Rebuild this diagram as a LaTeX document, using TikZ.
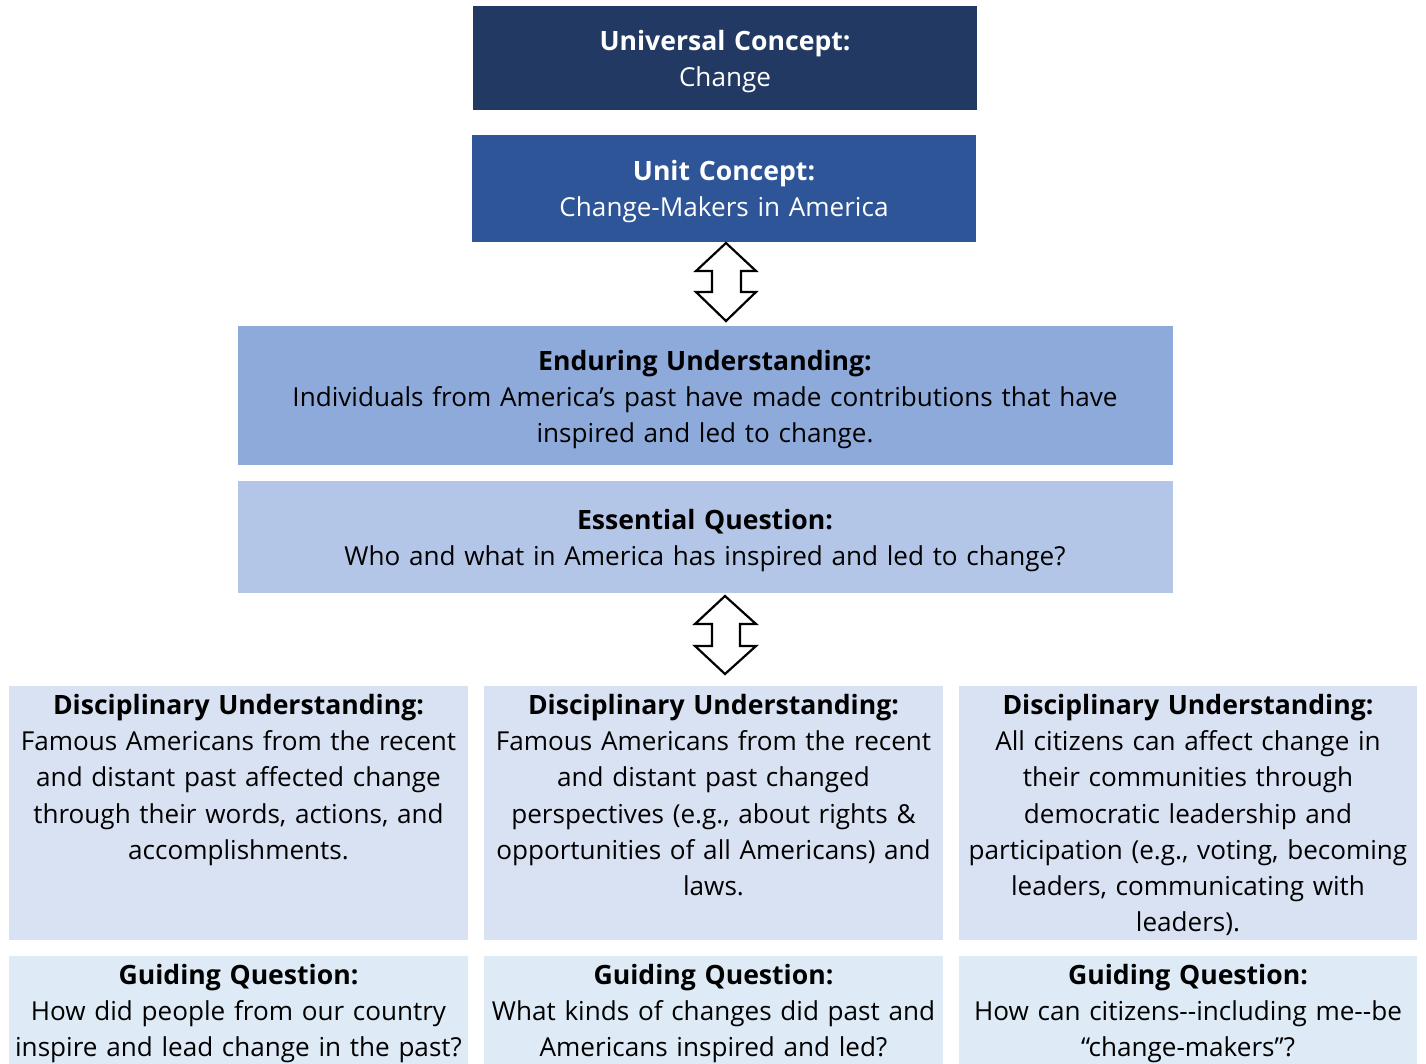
\documentclass[tikz,border=0pt]{standalone}
\usepackage{fontspec}
\setmainfont{Open Sans}
\definecolor{cUniv}{HTML}{223A63}
\definecolor{cUnit}{HTML}{2E5597}
\definecolor{cEnd}{HTML}{8EAADB}
\definecolor{cEss}{HTML}{B4C6E7}
\definecolor{cDisc}{HTML}{D9E2F3}
\definecolor{cGuide}{HTML}{DEEBF7}
\newcommand{\hd}[1]{{\fontsize{26.6}{36.2}\selectfont\bfseries #1}}
\tikzset{
  box/.style={draw=none, inner sep=0, outer sep=0},
  txt/.style={inner sep=0, outer sep=0, align=center, anchor=base,
    font=\fontsize{26.1}{36.2}\selectfont},
  dblarrow/.style={draw=black, line width=2.2pt, fill=white, line join=miter},
}
\begin{document}
\begin{tikzpicture}[x=1pt,y=-1pt]
\useasboundingbox (0,0) rectangle (1426,1064);
% boxes
\fill[cUniv] (473,6) rectangle (977,110);
\node[box, minimum width=504pt, minimum height=104pt] (univ) at (725,58) {};
\fill[cUnit] (472,135) rectangle (976,242);
\node[box, minimum width=504pt, minimum height=107pt] (unit) at (724,188.5) {};
\fill[cEnd] (238,326) rectangle (1173,465);
\node[box, minimum width=935pt, minimum height=139pt] (endu) at (705.5,395.5) {};
\fill[cEss] (238,481) rectangle (1173,593);
\node[box, minimum width=935pt, minimum height=112pt] (ess) at (705.5,537) {};
\fill[cDisc] (9,686) rectangle (468,940);
\fill[cDisc] (484,686) rectangle (943,940);
\fill[cDisc] (959,686) rectangle (1417,940);
\node[box, minimum width=459pt, minimum height=254pt] (d1) at (238.5,813) {};
\node[box, minimum width=459pt, minimum height=254pt] (d2) at (713.5,813) {};
\node[box, minimum width=458pt, minimum height=254pt] (d3) at (1188,813) {};
\fill[cGuide] (9,956) rectangle (468,1064);
\fill[cGuide] (484,956) rectangle (943,1064);
\fill[cGuide] (959,956) rectangle (1417,1064);
\node[box, minimum width=459pt, minimum height=108pt] (g1) at (238.5,1010) {};
\node[box, minimum width=459pt, minimum height=108pt] (g2) at (713.5,1010) {};
\node[box, minimum width=458pt, minimum height=108pt] (g3) at (1188,1010) {};
% texts
\node[txt, text=white, text width=500pt] (tuniv) at (725,50.5) {\hd{Universal Concept:}\\Change};
\node[txt, text=white, text width=500pt] (tunit) at (724,180.5) {\hd{Unit Concept:}\\Change-Makers in America};
\node[txt, text width=930pt] (tendu) at (705,370.5) {\hd{Enduring Understanding:}\\Individuals from America’s past have made contributions that have\\inspired and led to change.};
\node[txt, text width=930pt] (tess) at (705,529.5) {\hd{Essential Question:}\\Who and what in America has inspired and led to change?};
\node[txt, text width=455pt] (td1) at (238.5,714.5) {\hd{Disciplinary Understanding:}\\Famous Americans from the recent\\and distant past affected change\\through their words, actions, and\\accomplishments.};
\node[txt, text width=455pt] (td2) at (713.5,714.5) {\hd{Disciplinary Understanding:}\\Famous Americans from the recent\\and distant past changed\\perspectives (e.g., about rights \&\\opportunities of all Americans) and\\laws.};
\node[txt, text width=455pt] (td3) at (1188,714.5) {\hd{Disciplinary Understanding:}\\All citizens can affect change in\\their communities through\\democratic leadership and\\participation (e.g., voting, becoming\\leaders, communicating with\\leaders).};
\node[txt, text width=455pt] (tg1) at (238.5,984.5) {\hd{Guiding Question:}\\How did people from our country\\inspire and lead change in the past?};
\node[txt, text width=455pt] (tg2) at (713.5,984.5) {\hd{Guiding Question:}\\What kinds of changes did past and\\Americans inspired and led?};
\node[txt, text width=455pt] (tg3) at (1188,984.5) {\hd{Guiding Question:}\\How can citizens-{}-including me-{}-be\\“change-makers”?};
% double arrows
\draw[dblarrow] (726,243) -- (756,271) -- (741,271) -- (741,292) -- (756,292) -- (726,321)
  -- (696,292) -- (712,292) -- (712,271) -- (696,271) -- cycle;
\draw[dblarrow] (725,596) -- (756,624) -- (740,624) -- (740,646) -- (756,646) -- (725,674)
  -- (695,646) -- (712,646) -- (712,624) -- (695,624) -- cycle;
\end{tikzpicture}
\end{document}
